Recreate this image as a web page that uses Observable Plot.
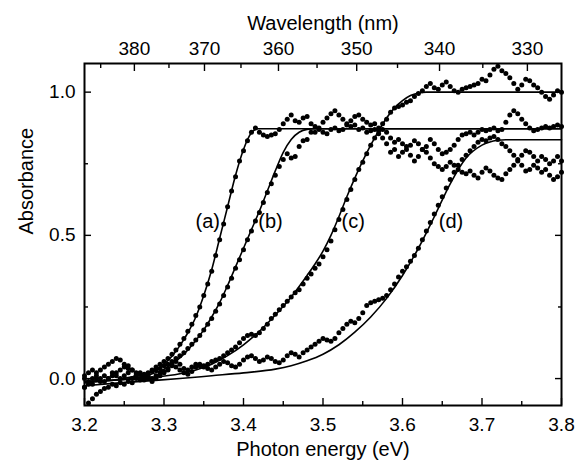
<!DOCTYPE html>
<html><head><meta charset="utf-8">
<script src="https://cdn.jsdelivr.net/npm/d3@7"></script>
<script src="https://cdn.jsdelivr.net/npm/@observablehq/plot@0.6"></script>
<style>body{margin:0;background:#fff}</style>
</head><body><div id="chart"></div>
<script>
const energies = [
3.200,3.205,3.210,3.215,3.220,3.225,3.230,3.235,3.240,3.245,
3.250,3.255,3.260,3.265,3.270,3.275,3.280,3.285,3.290,3.295,
3.300,3.305,3.310,3.315,3.320,3.325,3.330,3.335,3.340,3.345,
3.350,3.355,3.360,3.365,3.370,3.375,3.380,3.385,3.390,3.395,
3.400,3.405,3.410,3.415,3.420,3.425,3.430,3.435,3.440,3.445,
3.450,3.455,3.460,3.465,3.470,3.475,3.480,3.485,3.490,3.495,
3.500,3.505,3.510,3.515,3.520,3.525,3.530,3.535,3.540,3.545,
3.550,3.555,3.560,3.565,3.570,3.575,3.580,3.585,3.590,3.595,
3.600,3.605,3.610,3.615,3.620,3.625,3.630,3.635,3.640,3.645,
3.650,3.655,3.660,3.665,3.670,3.675,3.680,3.685,3.690,3.695,
3.700,3.705,3.710,3.715,3.720,3.725,3.730,3.735,3.740,3.745,
3.750,3.755,3.760,3.765,3.770,3.775,3.780,3.785,3.790,3.795,
3.800];

const dotsA = [
0.01,-0.02,0.00,0.02,0.03,0.04,0.05,0.06,0.07,0.065,
0.05,0.035,0.03,0.02,0.015,0.01,0.02,0.03,0.04,0.05,
0.06,0.07,0.085,0.10,0.12,0.14,0.165,0.19,0.22,0.25,
0.29,0.33,0.375,0.43,0.485,0.54,0.60,0.655,0.705,0.76,
0.795,0.83,0.86,0.875,0.86,0.85,0.845,0.85,0.855,0.87,
0.89,0.905,0.92,0.90,0.895,0.91,0.915,0.89,0.86,0.87,
0.895,0.91,0.925,0.935,0.92,0.905,0.89,0.88,0.885,0.87,
0.875,0.86,0.865,0.87,0.855,0.84,0.82,0.79,0.80,0.775,
0.79,0.81,0.78,0.76,0.775,0.80,0.79,0.77,0.75,0.74,
0.73,0.74,0.755,0.745,0.73,0.72,0.715,0.725,0.71,0.70,
0.72,0.735,0.725,0.71,0.70,0.695,0.715,0.73,0.745,0.76,
0.745,0.725,0.73,0.745,0.735,0.72,0.73,0.71,0.695,0.705,
0.72];

const dotsB = [
-0.03,-0.01,-0.02,0.00,-0.01,0.01,0.00,0.02,0.01,0.00,
0.01,0.02,0.00,0.01,0.02,0.015,0.01,0.025,0.03,0.035,
0.045,0.05,0.06,0.07,0.08,0.09,0.105,0.12,0.135,0.15,
0.17,0.19,0.21,0.235,0.26,0.29,0.32,0.35,0.385,0.415,
0.45,0.485,0.515,0.55,0.58,0.615,0.65,0.68,0.71,0.74,
0.765,0.785,0.77,0.775,0.81,0.83,0.835,0.86,0.88,0.875,
0.86,0.855,0.87,0.875,0.865,0.87,0.885,0.90,0.915,0.92,
0.905,0.895,0.885,0.89,0.875,0.87,0.86,0.84,0.825,0.835,
0.82,0.80,0.815,0.83,0.82,0.80,0.81,0.835,0.82,0.80,
0.785,0.79,0.80,0.815,0.835,0.85,0.855,0.86,0.85,0.86,
0.87,0.865,0.87,0.875,0.865,0.87,0.895,0.92,0.935,0.925,
0.905,0.89,0.875,0.865,0.87,0.875,0.88,0.875,0.88,0.885,
0.88];

const dotsC = [
0.00,0.02,0.03,0.01,0.00,-0.01,0.00,0.01,0.02,0.03,
0.04,0.045,0.03,0.01,0.00,-0.005,0.005,0.00,0.01,0.02,
0.025,0.03,0.045,0.06,0.05,0.035,0.03,0.04,0.05,0.045,
0.04,0.05,0.06,0.065,0.07,0.08,0.09,0.10,0.11,0.125,
0.14,0.15,0.155,0.15,0.16,0.175,0.19,0.21,0.225,0.24,
0.255,0.27,0.285,0.30,0.31,0.33,0.35,0.365,0.385,0.40,
0.425,0.45,0.48,0.52,0.555,0.59,0.625,0.66,0.695,0.73,
0.755,0.785,0.815,0.84,0.865,0.89,0.905,0.93,0.945,0.95,
0.955,0.965,0.97,0.985,0.995,1.005,1.02,1.03,1.015,1.01,
1.025,1.035,1.02,1.005,1.0,1.01,1.015,1.02,1.025,1.03,
1.045,1.04,1.06,1.08,1.09,1.075,1.065,1.05,1.03,1.01,
1.025,1.045,1.04,1.025,1.015,1.0,0.985,0.975,0.99,1.005,
1.0];

const dotsD = [
-0.03,-0.085,-0.07,-0.055,-0.045,-0.035,-0.03,-0.02,-0.025,-0.015,
-0.02,-0.01,-0.015,0.00,-0.005,0.005,0.00,-0.01,0.00,0.01,
0.02,0.035,0.05,0.04,0.03,0.02,0.015,0.025,0.04,0.05,
0.045,0.035,0.03,0.04,0.05,0.06,0.055,0.045,0.04,0.05,
0.065,0.075,0.08,0.07,0.06,0.065,0.075,0.07,0.06,0.055,
0.065,0.08,0.09,0.085,0.075,0.09,0.10,0.11,0.12,0.13,
0.14,0.135,0.13,0.14,0.16,0.175,0.19,0.20,0.195,0.21,
0.23,0.255,0.265,0.27,0.275,0.28,0.29,0.31,0.33,0.355,
0.375,0.39,0.41,0.43,0.455,0.485,0.515,0.545,0.575,0.605,
0.635,0.665,0.695,0.72,0.745,0.765,0.78,0.795,0.81,0.825,
0.835,0.83,0.84,0.845,0.835,0.82,0.81,0.795,0.78,0.765,
0.78,0.795,0.79,0.775,0.76,0.775,0.765,0.75,0.76,0.775,
0.76];

// fitted curves
const fitA_E = [3.200,3.220,3.240,3.260,3.280,3.300,3.310,3.320,3.330,3.340,3.350,3.360,3.370,3.380,3.390,3.400,3.410,3.418,3.430,3.800];
const fitA_A = [-0.015,-0.01,-0.004,0.006,0.02,0.05,0.078,0.115,0.16,0.215,0.29,0.38,0.49,0.60,0.71,0.80,0.858,0.872,0.872,0.872];
const fitB_E = [3.200,3.240,3.260,3.280,3.300,3.320,3.330,3.340,3.350,3.360,3.370,3.380,3.390,3.400,3.410,3.420,3.430,3.440,3.450,3.460,3.470,3.480,3.490,3.800];
const fitB_A = [-0.01,-0.005,0.0,0.012,0.033,0.072,0.10,0.133,0.17,0.215,0.265,0.325,0.39,0.455,0.52,0.585,0.655,0.725,0.79,0.835,0.86,0.87,0.872,0.872];
const fitC_E = [3.200,3.240,3.280,3.320,3.340,3.360,3.380,3.400,3.420,3.440,3.460,3.480,3.490,3.500,3.510,3.520,3.530,3.540,3.550,3.560,3.570,3.580,3.590,3.600,3.610,3.620,3.630,3.800];
const fitC_A = [-0.01,-0.005,0.003,0.017,0.03,0.05,0.08,0.118,0.165,0.222,0.285,0.36,0.40,0.445,0.50,0.565,0.635,0.70,0.76,0.815,0.865,0.91,0.945,0.97,0.988,0.997,1.0,1.0];
const fitD_E = [3.200,3.240,3.280,3.320,3.360,3.400,3.440,3.460,3.480,3.500,3.520,3.540,3.560,3.580,3.600,3.620,3.640,3.660,3.680,3.700,3.720,3.730,3.800];
const fitD_A = [-0.025,-0.016,-0.008,0.0,0.01,0.02,0.033,0.045,0.062,0.085,0.118,0.162,0.215,0.28,0.36,0.455,0.565,0.68,0.77,0.815,0.832,0.834,0.834];

const curveLabels = ["(a)","(b)","(c)","(d)"];
const labelE = [3.355,3.434,3.538,3.661];
const labelA = [0.547,0.547,0.547,0.547];

const energyTicks = [3.2,3.3,3.4,3.5,3.6,3.7,3.8];
const energyMinor = [3.25,3.35,3.45,3.55,3.65,3.75];
const absTicks = [0,0.5,1.0];
const absMinor = [0.25,0.75];
const wlTicks = [380,370,360,350,340,330];
const wlMinor = [385,375,365,355,345,335];
const hc = 1239.84;

const dotRows = [];
[dotsA, dotsB, dotsC, dotsD].forEach((arr, s) => arr.forEach((v, i) => dotRows.push({e: energies[i], v, s})));
const fitRows = [];
[[fitA_E, fitA_A], [fitB_E, fitB_A], [fitC_E, fitC_A], [fitD_E, fitD_A]].forEach(([E, A], s) =>
  E.forEach((e, i) => fitRows.push({e, v: A[i], s})));
const labelRows = curveLabels.map((t, i) => ({t, e: labelE[i], v: labelA[i]}));

const fs = 19;
const chart = Plot.plot({
  width: 583, height: 467,
  marginLeft: 84, marginRight: 22, marginTop: 63, marginBottom: 62,
  x: {domain: [3.2, 3.8]},
  y: {domain: [-0.094, 1.1]},
  style: {fontFamily: "'Liberation Sans', Arial, Helvetica, sans-serif", color: "black", background: "white"},
  marks: [
    Plot.line(fitRows, {x: "e", y: "v", z: "s", stroke: "black", strokeWidth: 1.6, curve: "monotone-x"}),
    Plot.dot(dotRows, {x: "e", y: "v", r: 2.5, fill: "black", stroke: null}),
    Plot.text(labelRows, {x: "e", y: "v", text: "t", fontSize: 20, fill: "black"}),
    // inward ticks
    Plot.axisX({anchor: "bottom", ticks: energyTicks, tickSize: -7, tickFormat: () => "", label: null, strokeWidth: 1.4}),
    Plot.axisX({anchor: "bottom", ticks: energyMinor, tickSize: -4, tickFormat: () => "", label: null, strokeWidth: 1.4}),
    Plot.axisX({anchor: "top", ticks: wlTicks.map(w => hc / w), tickSize: -7, tickFormat: () => "", label: null, strokeWidth: 1.4}),
    Plot.axisX({anchor: "top", ticks: wlMinor.map(w => hc / w), tickSize: -4, tickFormat: () => "", label: null, strokeWidth: 1.4}),
    Plot.axisY({anchor: "left", ticks: absTicks, tickSize: -7, tickFormat: () => "", label: null, strokeWidth: 1.4}),
    Plot.axisY({anchor: "left", ticks: absMinor, tickSize: -4, tickFormat: () => "", label: null, strokeWidth: 1.4}),
    Plot.axisY({anchor: "right", ticks: absTicks, tickSize: -7, tickFormat: () => "", label: null, strokeWidth: 1.4}),
    Plot.axisY({anchor: "right", ticks: absMinor, tickSize: -4, tickFormat: () => "", label: null, strokeWidth: 1.4}),
    // tick labels
    Plot.axisX({anchor: "bottom", ticks: energyTicks, tickSize: 0, tickPadding: 12, tickFormat: d3.format(".1f"), fontSize: fs, label: null}),
    Plot.axisX({anchor: "top", ticks: wlTicks.map(w => hc / w), tickSize: 0, tickPadding: 9, tickFormat: e => String(Math.round(hc / e)), fontSize: fs, label: null}),
    Plot.axisY({anchor: "left", ticks: absTicks, tickSize: 0, tickPadding: 9, tickFormat: d3.format(".1f"), fontSize: fs, label: null}),
    // titles
    Plot.text(["Photon energy (eV)"], {frameAnchor: "bottom", dy: 50, fontSize: 20, fill: "black"}),
    Plot.text(["Wavelength (nm)"], {frameAnchor: "top", dy: -48, fontSize: 20, fill: "black"}),
    Plot.text(["Absorbance"], {frameAnchor: "left", dx: -58, rotate: -90, fontSize: 20, fill: "black"}),
    Plot.frame({stroke: "black", strokeWidth: 2})
  ]
});
document.getElementById("chart").appendChild(chart);
</script>
</body></html>
